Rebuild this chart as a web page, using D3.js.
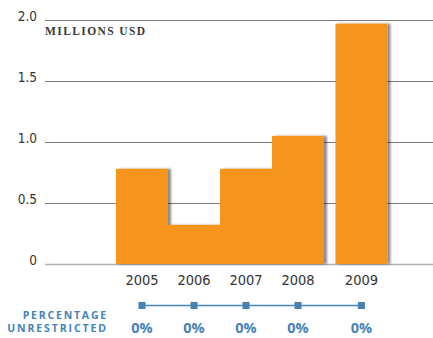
<!DOCTYPE html>
<html><head><meta charset="utf-8">
<script src="https://cdn.jsdelivr.net/npm/d3@7/dist/d3.min.js"></script>
<style>
html,body{margin:0;padding:0;background:#fff;}
svg{display:block;}
</style></head>
<body>
<script>
const years = ["2005","2006","2007","2008","2009"];
const values = [0.78, 0.32, 0.78, 1.05, 1.97];
const slots = [0, 1, 2, 3, 4.22];
const unrestricted = ["0%","0%","0%","0%","0%"];
const yTicks = [0, 0.5, 1.0, 1.5, 2.0];
const yTickLabels = ["0","0.5","1.0","1.5","2.0"];

const W = 433, H = 338;
const svg = d3.select("body").append("svg").attr("width", W).attr("height", H);

const defs = svg.append("defs");
const f = defs.append("filter").attr("id","sh").attr("x","-20%").attr("y","-20%").attr("width","150%").attr("height","140%");
f.append("feDropShadow").attr("dx",3).attr("dy",0).attr("stdDeviation",1.3)
  .attr("flood-color","#000").attr("flood-opacity",0.45);

const y = d3.scaleLinear().domain([0, 2]).range([264, 20]);
const x = d3.scaleLinear().domain([0, 1]).range([116, 168]);
const bw = x(1) - x(0);

const condensed = "'Liberation Sans Narrow','DejaVu Sans Condensed','Arial Narrow',sans-serif";

// gridlines
svg.append("g").selectAll("line").data(yTicks.filter(d => d > 0)).join("line")
  .attr("x1", 45).attr("x2", W).attr("y1", d => Math.round(y(d)) + 0.5).attr("y2", d => Math.round(y(d)) + 0.5)
  .attr("stroke", "#7a7a7a").attr("stroke-width", 1.2);
svg.append("line").attr("x1", 45).attr("x2", W).attr("y1", y(0) + 0.5).attr("y2", y(0) + 0.5)
  .attr("stroke", "#b0b0b0").attr("stroke-width", 1.5);

// y tick labels
svg.append("g").selectAll("text").data(yTicks).join("text")
  .attr("x", 37).attr("y", d => y(d) + 1)
  .attr("text-anchor", "end")
  .attr("font-family", condensed).attr("font-size", 13.5).attr("fill", "#333")
  .text((d, i) => yTickLabels[i]);

// axis title
svg.append("text").attr("x", 45).attr("y", 35)
  .attr("font-family", "'Liberation Serif','DejaVu Serif',serif")
  .attr("font-size", 11.5).attr("font-weight", "bold").attr("letter-spacing", 1.4)
  .attr("fill", "#3a3a3a").text("MILLIONS USD");

// bars
svg.append("g").selectAll("rect").data(values).join("rect")
  .attr("x", (d, i) => x(slots[i])).attr("width", bw)
  .attr("y", d => y(d)).attr("height", d => y(0) - y(d))
  .attr("fill", "#f7941d").attr("filter", "url(#sh)");

// year labels
svg.append("g").selectAll("text").data(years).join("text")
  .attr("x", (d, i) => x(slots[i]) + bw / 2).attr("y", 285)
  .attr("text-anchor", "middle")
  .attr("font-family", condensed).attr("font-size", 14.5).attr("fill", "#333")
  .text(d => d);

// percentage unrestricted row
const blue = "#4583b5";
const cx = (i) => x(slots[i]) + bw / 2;
svg.append("line").attr("x1", cx(0)).attr("x2", cx(years.length - 1))
  .attr("y1", 305.5).attr("y2", 305.5).attr("stroke", blue).attr("stroke-width", 1.5);
svg.append("g").selectAll("rect").data(years).join("rect")
  .attr("x", (d, i) => cx(i) - 3.5).attr("y", 302).attr("width", 7).attr("height", 7)
  .attr("fill", blue);
svg.append("g").selectAll("text").data(unrestricted).join("text")
  .attr("x", (d, i) => cx(i)).attr("y", 333)
  .attr("text-anchor", "middle")
  .attr("font-family", "'Open Sans','DejaVu Sans',sans-serif").attr("font-weight", "bold")
  .attr("font-size", 14.5).attr("fill", blue)
  .text(d => d);

svg.append("text").attr("x", 108).attr("y", 319).attr("text-anchor", "end")
  .attr("font-family", "'Open Sans','DejaVu Sans',sans-serif").attr("font-weight", "bold")
  .attr("font-size", 10.5).attr("letter-spacing", 1.8).attr("fill", blue).text("PERCENTAGE");
svg.append("text").attr("x", 108).attr("y", 332).attr("text-anchor", "end")
  .attr("font-family", "'Open Sans','DejaVu Sans',sans-serif").attr("font-weight", "bold")
  .attr("font-size", 10.5).attr("letter-spacing", 1.9).attr("fill", blue).text("UNRESTRICTED");
</script>
</body></html>
